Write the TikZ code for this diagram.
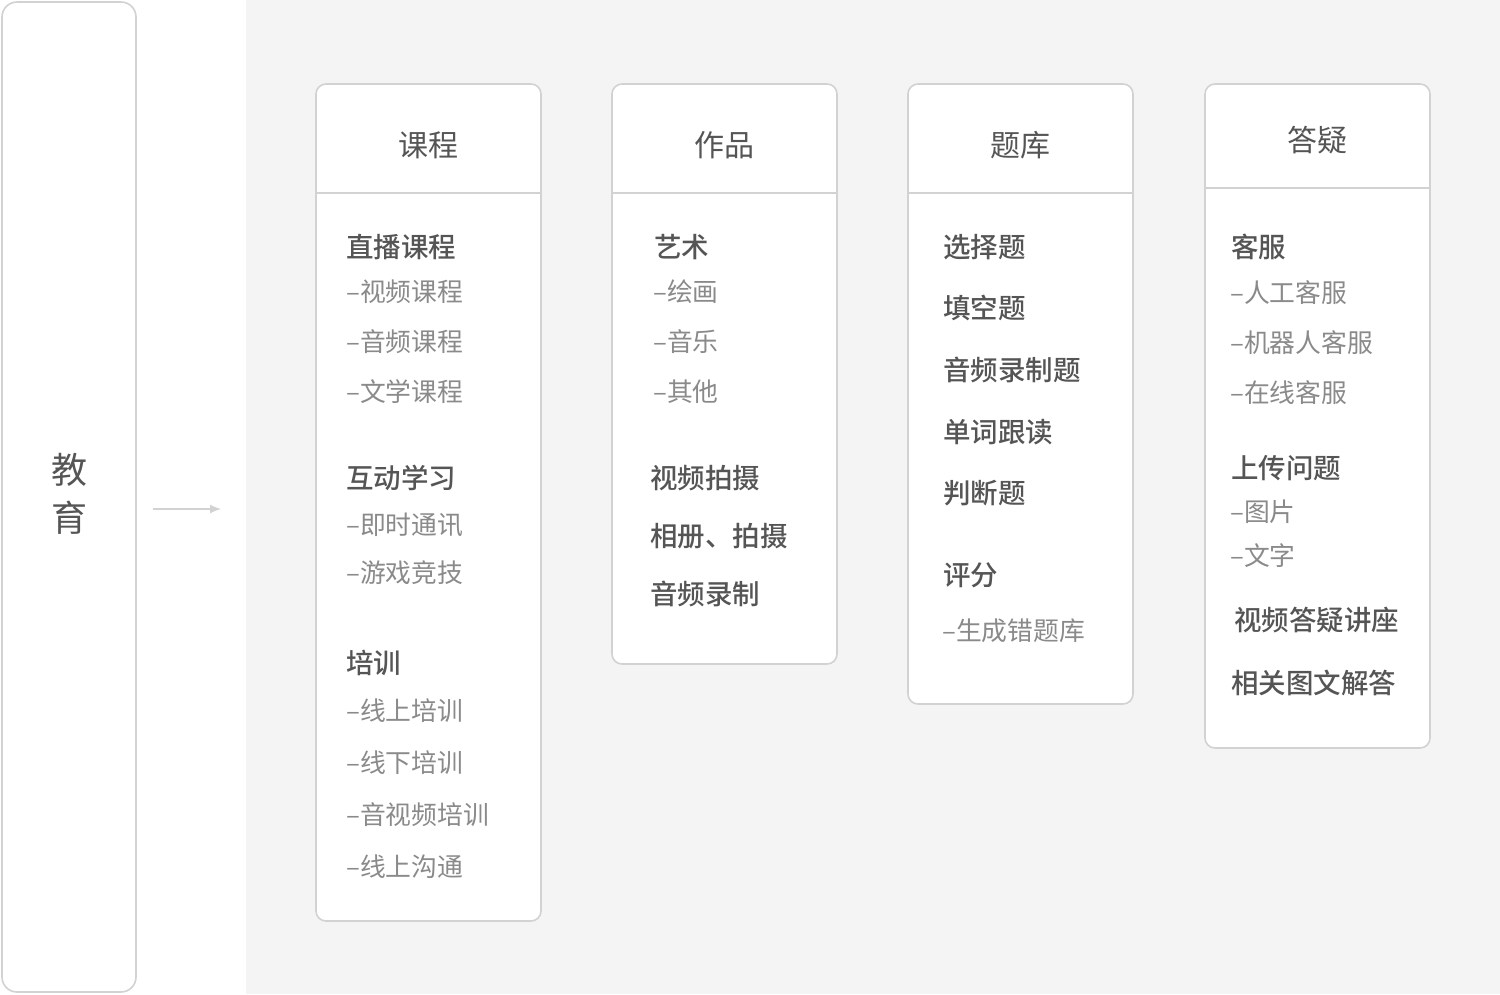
\documentclass[tikz,border=0pt]{standalone}
\usepackage{fontspec}
\setmainfont{Noto Sans CJK SC}
\newfontfamily\medfont{Noto Sans CJK SC Medium}
\usepackage{tikz}
\usetikzlibrary{arrows.meta}
\definecolor{lnGray}{HTML}{D2D2D2}
\definecolor{bgGray}{HTML}{F4F4F4}
\definecolor{txDark}{HTML}{555555}
\definecolor{txLight}{HTML}{8A8A8A}

\begin{document}
\begin{tikzpicture}[x=1pt,y=-1pt,
  card/.style={draw=lnGray,line width=1.6pt,fill=white,rounded corners=10pt,rectangle,minimum width=225pt,inner sep=0pt},
  head/.style={font=\fontsize{30}{36}\selectfont,text=txDark,inner sep=0pt},
  main/.style={font=\fontsize{27.5}{32}\selectfont\medfont,text=txDark,anchor=west,inner sep=0pt},
  sub/.style={font=\fontsize{25.8}{30}\selectfont,text=txLight,anchor=west,inner sep=0pt},
  arr/.style={draw=lnGray,line width=1.2pt,-{Latex[length=11pt,width=9pt]}}]
\useasboundingbox (0,0) rectangle (1500,994);
\fill[bgGray] (246,0) rectangle (1500,994);
\node[card,minimum width=134pt,minimum height=990pt,rounded corners=15pt] (edu) at (69,497) {};
\node[font=\fontsize{36}{48}\selectfont,text=txDark,align=center] (eduT) at (69,494) {教\\育};
\coordinate (arrS) at (153,509);
\coordinate (arrE) at (221,509);
\draw[arr] (arrS) -- (arrE);
% cards
\node[card,minimum height=837pt] (kc) at (428.5,502.5) {};
\node[card,minimum height=580pt] (zp) at (724.5,374) {};
\node[card,minimum height=620pt] (tk) at (1020.5,394) {};
\node[card,minimum height=664pt] (dy) at (1317.5,416) {};
\draw[lnGray,line width=1.6pt] (kc.west |- 0,193) -- (kc.east |- 0,193);
\draw[lnGray,line width=1.6pt] (zp.west |- 0,193) -- (zp.east |- 0,193);
\draw[lnGray,line width=1.6pt] (tk.west |- 0,193) -- (tk.east |- 0,193);
\draw[lnGray,line width=1.6pt] (dy.west |- 0,188) -- (dy.east |- 0,188);
\node[head] (kcH) at (428,145) {课程};
\node[head] (zpH) at (724,145) {作品};
\node[head] (tkH) at (1020,145) {题库};
\node[head] (dyH) at (1317,140) {答疑};
% 课程
\node[main] (kc1) at (346,247) {直播课程};
\foreach \y/\t [count=\i] in {292/视频课程,342/音频课程,392/文学课程}
  \node[sub] (kc1s\i) at (346,\y) {–\t};
\node[main] (kc2) at (346,478) {互动学习};
\foreach \y/\t [count=\i] in {525/即时通讯,573/游戏竞技}
  \node[sub] (kc2s\i) at (346,\y) {–\t};
\node[main] (kc3) at (346,663) {培训};
\foreach \y/\t [count=\i] in {711/线上培训,763/线下培训,815/音视频培训,867/线上沟通}
  \node[sub] (kc3s\i) at (346,\y) {–\t};
% 作品
\node[main] (zp1) at (654,247) {艺术};
\foreach \y/\t [count=\i] in {292/绘画,342/音乐,392/其他}
  \node[sub] (zp1s\i) at (653,\y) {–\t};
\foreach \y/\t [count=\i] in {478/视频拍摄,536/相册、拍摄,594/音频录制}
  \node[main] (zp2m\i) at (650,\y) {\t};
% 题库
\foreach \y/\t [count=\i] in {247/选择题,308/填空题,370/音频录制题,432/单词跟读,493/判断题,575/评分}
  \node[main] (tk\i) at (943,\y) {\t};
\node[sub] (tks1) at (942,631) {–生成错题库};
% 答疑
\node[main] (dy1) at (1231,247) {客服};
\foreach \y/\t [count=\i] in {293/人工客服,343/机器人客服,393/在线客服}
  \node[sub] (dy1s\i) at (1230,\y) {–\t};
\node[main] (dy2) at (1231,468) {上传问题};
\foreach \y/\t [count=\i] in {512/图片,556/文字}
  \node[sub] (dy2s\i) at (1230,\y) {–\t};
\node[main] (dy3) at (1234,620) {视频答疑讲座};
\node[main] (dy4) at (1231,683) {相关图文解答};
\end{tikzpicture}
\end{document}
